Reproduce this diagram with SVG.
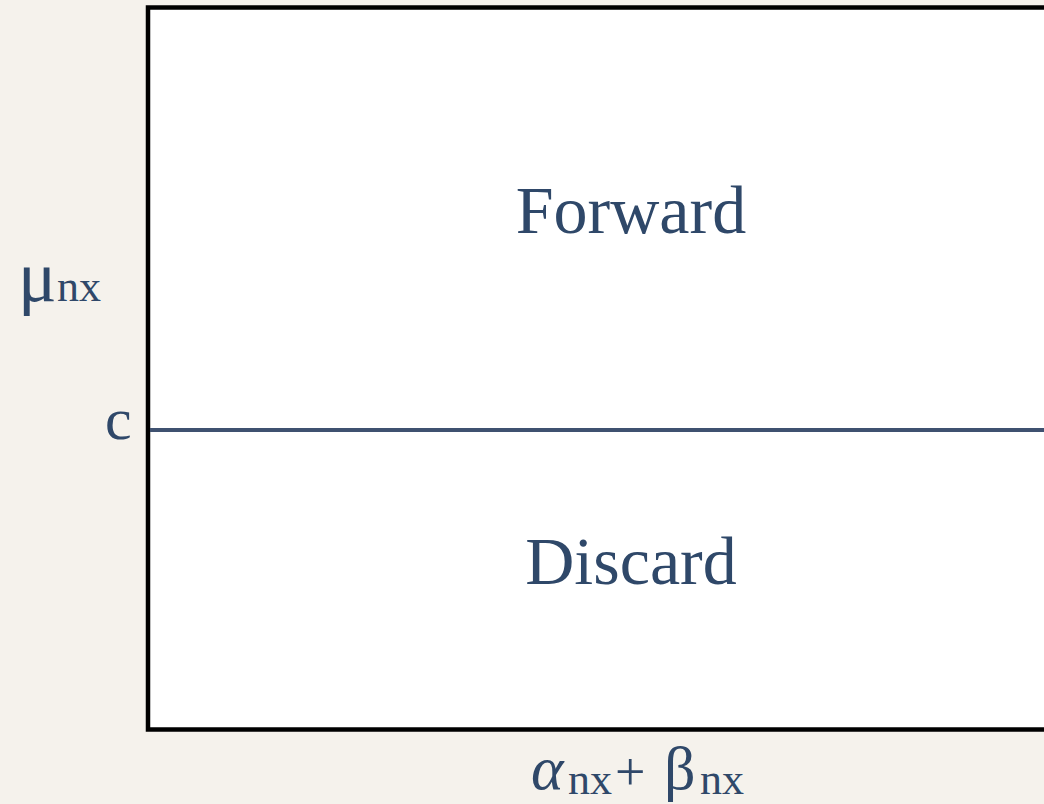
<svg xmlns="http://www.w3.org/2000/svg" width="1044" height="804" viewBox="0 0 1044 804">
<style>
.t{font-family:"Liberation Serif","DejaVu Serif",serif;fill:#2f4869}
</style>
<rect x="0" y="0" width="1044" height="804" fill="#f5f2ec"/>
<g id="region">
<rect x="148" y="7.5" width="904" height="722" fill="#ffffff" stroke="#000000" stroke-width="4.5"/>
</g>
<g id="connectors">
<line x1="150" y1="430" x2="1044" y2="430" stroke="#3f5170" stroke-width="4"/>
</g>
<g id="forward">
<text class="t" x="631" y="233" font-size="68" text-anchor="middle">Forward</text>
</g>
<g id="discard">
<text class="t" x="631" y="584" font-size="68" text-anchor="middle">Discard</text>
</g>
<g id="y-label">
<text class="t" x="18" y="301" font-size="72">μ</text>
<text class="t" x="57" y="301" font-size="44">nx</text>
</g>
<g id="c-label">
<text class="t" x="105" y="439" font-size="60">c</text>
</g>
<g id="x-label">
<text class="t" x="531" y="789" font-size="62" font-style="italic">α</text>
<text class="t" x="568" y="794" font-size="44">nx</text>
<text class="t" x="615" y="790" font-size="54">+</text>
<text class="t" x="664" y="789" font-size="62">β</text>
<text class="t" x="700" y="794" font-size="44">nx</text>
</g>
</svg>
